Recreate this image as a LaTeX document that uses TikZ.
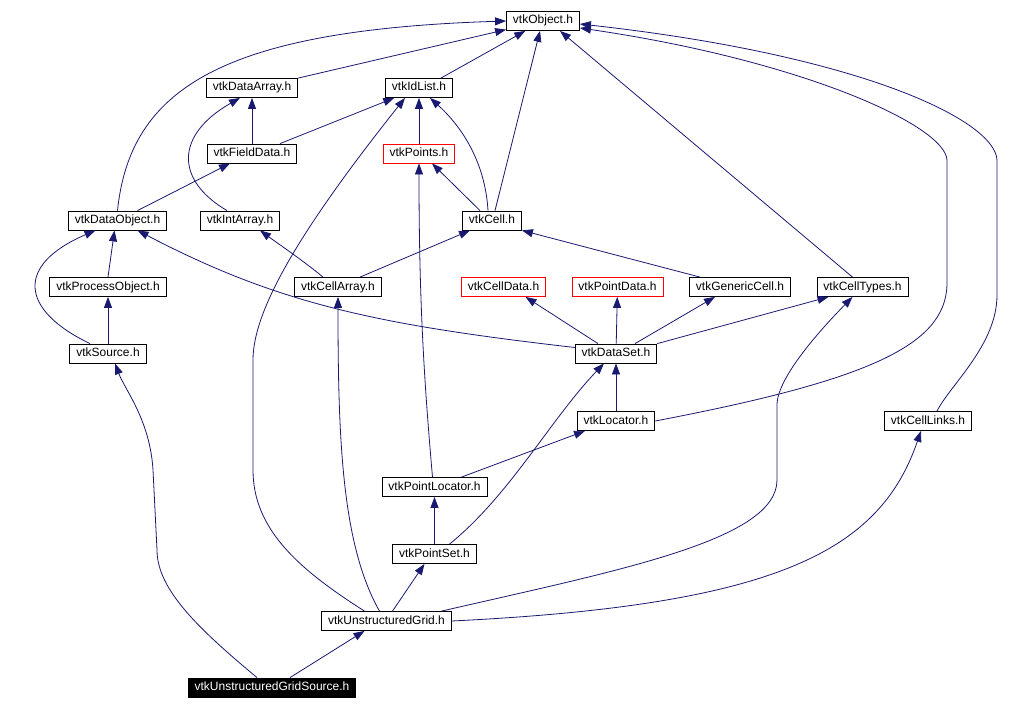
\documentclass[tikz,border=0pt]{standalone}
\usepackage{fontspec}
\setmainfont{Liberation Sans}
\usetikzlibrary{arrows.meta}
\definecolor{edgeblue}{RGB}{25,25,112}

\begin{document}
\begin{tikzpicture}[
  x=1pt, y=-1pt,
  every node/.style={font=\fontsize{12}{14}\selectfont},
  hdr/.style={draw=#1, line width=0.8pt, fill=white, minimum height=19pt,
              inner xsep=6.5pt, inner ysep=0pt, text height=9pt, text depth=3pt},
  hdr/.default=black,
  hdrsel/.style={hdr, fill=black, text=white},
  dep/.style={-{Triangle[length=11pt,width=8pt]}, draw=edgeblue, line width=0.8pt}]

\useasboundingbox (0,0) rectangle (1013,709);

\node[hdr]     (obj)   at (543,21)      {vtkObject.h};
\node[hdr]     (darr)  at (252,88)      {vtkDataArray.h};
\node[hdr]     (idl)   at (419,88)      {vtkIdList.h};
\node[hdr]     (fld)   at (252,153.5)   {vtkFieldData.h};
\node[hdr=red] (pts)   at (419,153.5)   {vtkPoints.h};
\node[hdr]     (dobj)  at (117.5,220.5) {vtkDataObject.h};
\node[hdr]     (iarr)  at (240,220.5)   {vtkIntArray.h};
\node[hdr]     (cell)  at (492,220.5)   {vtkCell.h};
\node[hdr]     (pobj)  at (108,287)     {vtkProcessObject.h};
\node[hdr]     (carr)  at (338,287)     {vtkCellArray.h};
\node[hdr=red] (cdat)  at (503.5,287)   {vtkCellData.h};
\node[hdr=red] (pdat)  at (617.5,287)   {vtkPointData.h};
\node[hdr]     (gcell) at (740,287)     {vtkGenericCell.h};
\node[hdr]     (ctyp)  at (862.5,287)   {vtkCellTypes.h};
\node[hdr]     (src)   at (108,353.5)   {vtkSource.h};
\node[hdr]     (dset)  at (616,353.5)   {vtkDataSet.h};
\node[hdr]     (loc)   at (616,421)     {vtkLocator.h};
\node[hdr]     (clnk)  at (928,421)     {vtkCellLinks.h};
\node[hdr]     (ploc)  at (434.5,487)   {vtkPointLocator.h};
\node[hdr]     (pset)  at (434.5,554)   {vtkPointSet.h};
\node[hdr]     (ugrid) at (386.5,621)   {vtkUnstructuredGrid.h};
\node[hdrsel]  (ugs)   at (272,687.5)   {vtkUnstructuredGridSource.h};

%% includes of vtkObject.h
\draw[dep] (darr.north east) -- (obj);
\draw[dep] ([xshift=-12pt]idl.north east) -- (obj);
\draw[dep] (dobj.north) .. controls (130,90) and (220,30) .. (obj.west);
\draw[dep] ([xshift=3pt]cell.north) -- ([xshift=-3pt]obj.south);
\draw[dep] ([xshift=-10pt]ctyp.north) -- ([xshift=17pt]obj.south);
\draw[dep] (loc.east) .. controls (870,380) and (945,345) .. (947,285)
    -- (947,160) .. controls (945,125) and (800,60) .. ([yshift=-7pt]obj.east);
\draw[dep] ([xshift=9pt]clnk.north) .. controls (950,385) and (997,345) .. (997,295)
    -- (997,160) .. controls (995,120) and (860,55) .. ([yshift=-3pt]obj.east);

\draw[dep] (fld) -- (darr);
\draw[dep] ([xshift=28pt]fld.north) -- (idl);
\draw[dep] ([xshift=-13pt]iarr.north) .. controls (175,180) and (175,135) .. ([xshift=-12pt]darr.south);
\draw[dep] (pts) -- (idl);
\draw[dep] ([xshift=-4pt]cell.north) .. controls (485,160) and (460,125) .. ([xshift=11pt]idl.south);
\draw[dep] ([xshift=-12pt]cell.north) -- ([xshift=13pt]pts.south);
\draw[dep] ([xshift=20pt]dobj.north) -- ([xshift=-22pt]fld.south);

\draw[dep] (pobj.north) -- ([xshift=-3pt]dobj.south);
\draw[dep] ([xshift=-18pt]src.north) .. controls (20,310) and (15,265) .. ([xshift=-22pt]dobj.south);
\draw[dep] (src) -- (pobj);
\draw[dep] ([yshift=6pt]dset.west) .. controls (380,325) and (280,305) .. ([xshift=20pt]dobj.south);
\draw[dep] ([xshift=-15pt]carr.north) .. controls (305,262) and (280,245) .. ([xshift=20pt]iarr.south);
\draw[dep] ([xshift=22pt]carr.north) -- ([xshift=-22pt]cell.south);
\draw[dep] ([xshift=-40pt]gcell.north) -- (cell.south east);

\draw[dep] ([xshift=-18pt]dset.north) -- ([xshift=22pt]cdat.south);
\draw[dep] (dset) -- (pdat);
\draw[dep] ([xshift=19pt]dset.north) -- ([xshift=-25pt]gcell.south);
\draw[dep] (dset.north east) -- ([xshift=-34pt]ctyp.south);
\draw[dep] (loc) -- (dset);

\draw[dep] ([xshift=27pt]ploc.north) -- ([xshift=-31pt]loc.south);
\draw[dep] ([xshift=-2pt]ploc.north) .. controls (424,380) and (419,300) .. (pts.south);
\draw[dep] (pset) -- (ploc);
\draw[dep] ([xshift=15pt]pset.north) .. controls (510,495) and (550,420) .. ([xshift=-12pt]dset.south);

%% vtkUnstructuredGrid.h
\draw[dep] ([xshift=6pt]ugrid.north) -- ([xshift=-10pt]pset.south);
\draw[dep] ([xshift=-7pt]ugrid.north) .. controls (342,545) and (338,440) .. (carr.south);
\draw[dep] ([xshift=-22pt]ugrid.north) .. controls (300,570) and (253,530) .. (253,470)
    -- (253,360) .. controls (253,310) and (300,230) .. ([xshift=-14pt]idl.south);
\draw[dep] ([xshift=55pt]ugrid.north) .. controls (620,570) and (777,540) .. (777,480)
    -- (777,405) .. controls (777,375) and (830,320) .. ([xshift=-10pt]ctyp.south);
\draw[dep] (ugrid.east) .. controls (780,605) and (880,550) .. ([xshift=-7pt]clnk.south);

\draw[dep] ([xshift=18pt]ugs.north) -- ([xshift=-22pt]ugrid.south);
\draw[dep] ([xshift=-15pt]ugs.north) .. controls (200,630) and (157,590) .. (157,550)
    -- (153,470) .. controls (150,420) and (125,390) .. ([xshift=7pt]src.south);
\end{tikzpicture}
\end{document}
